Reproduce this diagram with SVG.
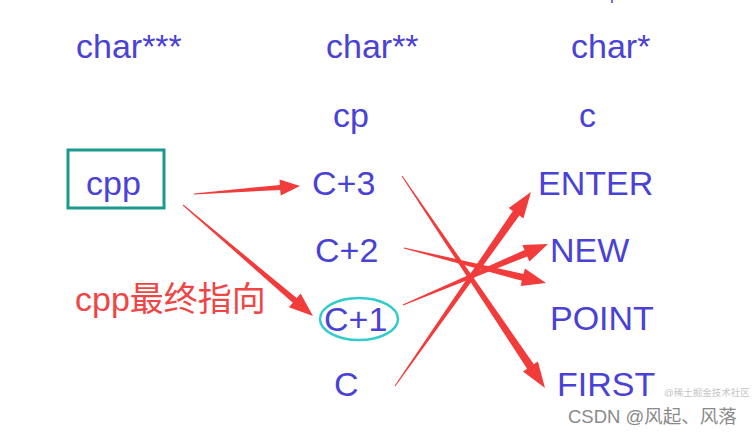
<svg xmlns="http://www.w3.org/2000/svg" width="756" height="433" viewBox="0 0 756 433">
<style>
.t{font-family:"Liberation Sans",Arial,sans-serif;font-size:34px;fill:#4a42d6}
.arr{fill:#f23b3b}
.wm{font-family:"Liberation Sans","Noto Sans CJK SC",sans-serif;font-size:18.5px;fill:#8a8a8a}
</style>
<rect width="756" height="433" fill="#ffffff"/>
<line x1="612" y1="0" x2="612" y2="3" stroke="#4a42d6" stroke-width="1.5"/>
<g id="hdr3"><text class="t" x="76" y="58">char***</text></g>
<g id="hdr2"><text class="t" x="326" y="58">char**</text></g>
<g id="hdr1"><text class="t" x="571" y="58">char*</text></g>
<g id="cp"><text class="t" x="333" y="127">cp</text></g>
<g id="c"><text class="t" x="579" y="127">c</text></g>
<g id="cpp"><rect x="68" y="150" width="96" height="58" fill="none" stroke="#1a9a8c" stroke-width="3"/><text class="t" x="86" y="195">cpp</text></g>
<g id="c3"><text class="t" x="312" y="195">C+3</text></g>
<g id="c2"><text class="t" x="315" y="262">C+2</text></g>
<g id="c1"><ellipse cx="359" cy="319" rx="39" ry="21" fill="none" stroke="#33cccc" stroke-width="2.5"/><text class="t" x="324" y="331">C+1</text></g>
<g id="c0"><text class="t" x="334" y="396">C</text></g>
<g id="enter"><text class="t" x="538" y="195">ENTER</text></g>
<g id="new"><text class="t" x="550" y="262">NEW</text></g>
<g id="point"><text class="t" x="550" y="330">POINT</text></g>
<g id="first"><text class="t" x="557" y="396">FIRST</text></g>
<g id="note"><text x="75" y="311" style="font-family:'Liberation Sans','Noto Sans CJK SC',sans-serif;font-size:34px;fill:#f04545">cpp最终指向</text></g>
<g id="connectors">
<polygon class="arr" points="194.0,193.5 279.9,185.0 279.5,179.5 300,186 280.7,195.5 280.2,190.0 194.0,194.5"/>
<polygon class="arr" points="183.3,204.6 296.7,298.1 300.6,293.6 313,316 288.9,307.3 292.8,302.7 182.7,205.4"/>
<polygon class="arr" points="402.4,175.7 533.8,364.2 537.9,361.4 545,388 523.0,371.5 527.1,368.7 401.6,176.3"/>
<polygon class="arr" points="404.1,247.5 523.5,273.9 524.9,268.5 546,283 520.6,286.0 521.9,280.7 403.9,248.5"/>
<polygon class="arr" points="402.8,304.5 524.5,250.1 522.4,245.0 548,244 529.4,261.6 527.2,256.5 403.2,305.5"/>
<polygon class="arr" points="394.6,385.7 512.8,211.0 508.7,208.1 531,192 523.4,218.5 519.4,215.6 395.4,386.3"/>
</g>
<g id="watermark">
<text class="wm" x="568" y="423">CSDN @风起、风落</text>
<text class="wm" x="664" y="396" style="fill:#c4c4c4;font-size:9.5px">@稀土掘金技术社区</text>
</g>
</svg>
